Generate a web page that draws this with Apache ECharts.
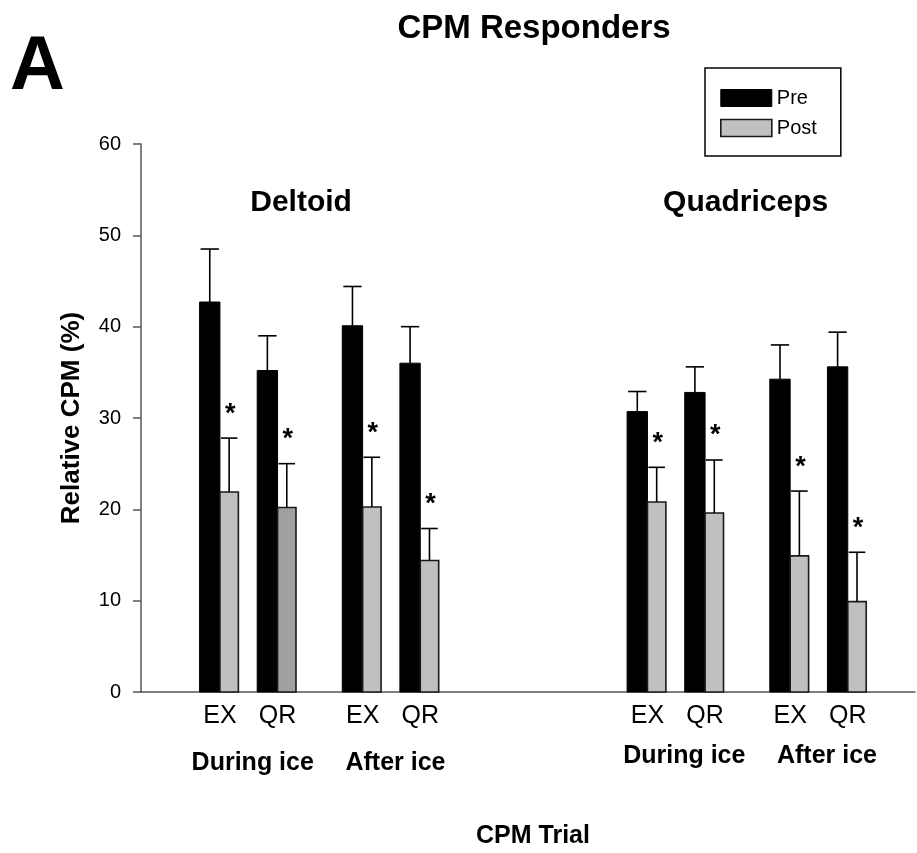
<!DOCTYPE html>
<html>
<head>
<meta charset="utf-8">
<script src="https://cdn.jsdelivr.net/npm/echarts@6/dist/echarts.min.js"></script>
<style>
  html, body { margin: 0; padding: 0; background: #fff; }
  #chart { width: 917px; height: 853px; }
</style>
</head>
<body>
<div id="chart"></div>
<script>
// ---------------- data ----------------
const muscles = ['Deltoid', 'Quadriceps'];
const conditions = ['During ice', 'After ice'];
const trials = ['EX', 'QR'];
// one entry per bar pair: Deltoid During EX, QR, Deltoid After EX, QR, Quadriceps During EX, QR, After EX, QR
const categories = ['EX', 'QR', 'EX', 'QR', 'EX', 'QR', 'EX', 'QR'];
const preMean  = [42.7, 35.2, 40.1, 36.0, 30.7, 32.8, 34.25, 35.6];
const preSD    = [5.8, 3.8, 4.3, 4.0, 2.2, 2.8, 3.75, 3.8];
const postMean = [21.9, 20.2, 20.25, 14.4, 20.8, 19.6, 14.9, 9.9];
const postSD   = [5.9, 4.8, 5.45, 3.5, 3.8, 5.8, 7.1, 5.4];
const significant = [true, true, true, true, true, true, true, true];
const yMin = 0, yMax = 60, yStep = 10;

// ---------------- layout / style (not data) ----------------
const FONT = '"Liberation Sans", Arial, Helvetica, sans-serif';
const groupStart = [4.11, 26.37];   // x (bar-width units) of first pair center per muscle
const pairStep = 3, condStep = 7.43;
const xMax = 40.3;
const preW = 1.06, postW = 0.96;
const darkerPost = 1;               // the one post bar drawn in a darker grey
const muscleLabelDx = [-19, -2];
const condLabelDx = [4, 8], condLabelDy = [71, 64];

function pairCenter(i) {
  const m = Math.floor(i / 4), c = Math.floor((i % 4) / 2), t = i % 2;
  return groupStart[m] + c * condStep + t * pairStep;
}

function barRenderer(kind) {
  return function (params, api) {
    const i = params.dataIndex;
    const x = api.value(0), v = api.value(1), sd = api.value(2);
    const w = kind === 'pre' ? preW : postW;
    const x0 = kind === 'pre' ? x - w : x;
    const x1 = kind === 'pre' ? x : x + w;
    const pTop = api.coord([x0, v]);
    const pBot = api.coord([x1, 0]);
    const eTop = api.coord([x0, v + sd]);
    const left = pTop[0], right = pBot[0];
    const cx = (left + right) / 2;
    const capHalf = (right - left) * 0.45;
    let fill = '#000', stroke = '#000', lw = 1;
    if (kind === 'post') { fill = (i === darkerPost) ? '#a0a0a0' : '#c0c0c0'; stroke = '#1a1a1a'; lw = 1.6; }
    const children = [
      { type: 'rect', shape: { x: left, y: pTop[1], width: right - left, height: pBot[1] - pTop[1] },
        style: { fill: fill, stroke: stroke, lineWidth: lw } },
      { type: 'line', shape: { x1: cx, y1: pTop[1], x2: cx, y2: eTop[1] },
        style: { stroke: '#000', lineWidth: 1.6 } },
      { type: 'line', shape: { x1: cx - capHalf, y1: eTop[1], x2: cx + capHalf, y2: eTop[1] },
        style: { stroke: '#000', lineWidth: 1.6 } }
    ];
    if (kind === 'post' && significant[i]) {
      children.push({ type: 'text', x: cx + 1, y: eTop[1] - 24,
        style: { text: '*', align: 'center', verticalAlign: 'middle', fontSize: 27, fontWeight: 'bold', fontFamily: FONT, fill: '#000' } });
    }
    return { type: 'group', children: children };
  };
}

const preData = preMean.map((v, i) => [pairCenter(i), v, preSD[i]]);
const postData = postMean.map((v, i) => [pairCenter(i), v, postSD[i]]);
const trialLabelData = categories.map((c, i) => [pairCenter(i), 0, i]);
const condLabelData = [];
for (let m = 0; m < muscles.length; m++) {
  for (let c = 0; c < conditions.length; c++) {
    const a = pairCenter(m * 4 + c * 2), b = pairCenter(m * 4 + c * 2 + 1);
    condLabelData.push([(a + b) / 2, 0, m, c]);
  }
}
const muscleLabelData = muscles.map((m, k) => [(pairCenter(k * 4) + pairCenter(k * 4 + 3)) / 2, yMax, k]);

const chart = echarts.init(document.getElementById('chart'), null, { renderer: 'canvas' });
chart.setOption({
  animation: false,
  backgroundColor: '#fff',
  textStyle: { fontFamily: FONT },
  title: [
    { text: 'CPM Responders', left: 534, top: 12, textAlign: 'center', padding: 0,
      textStyle: { fontSize: 33, fontWeight: 'bold', color: '#000', fontFamily: FONT } },
    { text: 'A', left: 10, top: 30, padding: 0,
      textStyle: { fontSize: 76, fontWeight: 'bold', color: '#000', fontFamily: FONT } }
  ],
  legend: {
    orient: 'vertical', left: 705, top: 68,
    padding: [20, 24, 18, 15],
    itemWidth: 51, itemHeight: 17, itemGap: 10, itemTextGap: 9,
    icon: 'rect',
    borderColor: '#000', borderWidth: 1.5, backgroundColor: '#fff',
    textStyle: { fontSize: 20, color: '#000', fontFamily: FONT },
    data: [
      { name: 'Pre', itemStyle: { color: '#000', borderColor: '#000', borderWidth: 1 } },
      { name: 'Post', itemStyle: { color: '#c0c0c0', borderColor: '#1a1a1a', borderWidth: 1.6 } }
    ],
    selectedMode: false
  },
  grid: { left: 141, right: 2, top: 144, bottom: 161, containLabel: false, outerBoundsMode: 'none' },
  xAxis: {
    type: 'value', min: 0, max: xMax,
    axisLine: { show: true, onZero: false, lineStyle: { color: '#555', width: 1.5 } },
    axisTick: { show: false }, axisLabel: { show: false }, splitLine: { show: false },
    name: 'CPM Trial', nameLocation: 'middle', nameGap: 132,
    nameTextStyle: { fontSize: 25, fontWeight: 'bold', color: '#000', fontFamily: FONT, padding: [0, 0, 0, 10] }
  },
  yAxis: {
    type: 'value', min: yMin, max: yMax, interval: yStep,
    axisLine: { show: true, lineStyle: { color: '#555', width: 1.5 } },
    axisTick: { show: true, inside: false, length: 8, lineStyle: { color: '#555', width: 1.5 } },
    axisLabel: { fontSize: 20, color: '#000', margin: 20, fontFamily: FONT },
    splitLine: { show: false },
    name: 'Relative CPM (%)', nameLocation: 'middle', nameGap: 56,
    nameTextStyle: { fontSize: 26, fontWeight: 'bold', color: '#000', fontFamily: FONT }
  },
  series: [
    { name: 'Pre', type: 'custom', renderItem: barRenderer('pre'), data: preData,
      encode: { x: 0, y: 1 }, itemStyle: { color: '#000' }, clip: false, silent: true },
    { name: 'Post', type: 'custom', renderItem: barRenderer('post'), data: postData,
      encode: { x: 0, y: 1 }, itemStyle: { color: '#c0c0c0', borderColor: '#1a1a1a', borderWidth: 1.6 }, clip: false, silent: true },
    { name: 'trialLabels', type: 'custom', data: trialLabelData, encode: { x: 0, y: 1 }, clip: false, silent: true,
      renderItem: function (params, api) {
        const p = api.coord([api.value(0), api.value(1)]);
        return { type: 'text', x: p[0], y: p[1] + 24,
          style: { text: categories[api.value(2)], align: 'center', verticalAlign: 'middle', fontSize: 25, fontFamily: FONT, fill: '#000' } };
      } },
    { name: 'condLabels', type: 'custom', data: condLabelData, encode: { x: 0, y: 1 }, clip: false, silent: true,
      renderItem: function (params, api) {
        const m = api.value(2), c = api.value(3);
        const p = api.coord([api.value(0), api.value(1)]);
        return { type: 'text', x: p[0] + condLabelDx[m], y: p[1] + condLabelDy[m],
          style: { text: conditions[c], align: 'center', verticalAlign: 'middle', fontSize: 25, fontWeight: 'bold', fontFamily: FONT, fill: '#000' } };
      } },
    { name: 'muscleLabels', type: 'custom', data: muscleLabelData, encode: { x: 0, y: 1 }, clip: false, silent: true,
      renderItem: function (params, api) {
        const k = api.value(2);
        const p = api.coord([api.value(0), api.value(1)]);
        return { type: 'text', x: p[0] + muscleLabelDx[k], y: p[1] + 59,
          style: { text: muscles[k], align: 'center', verticalAlign: 'middle', fontSize: 30, fontWeight: 'bold', fontFamily: FONT, fill: '#000' } };
      } }
  ]
});
</script>
</body>
</html>
